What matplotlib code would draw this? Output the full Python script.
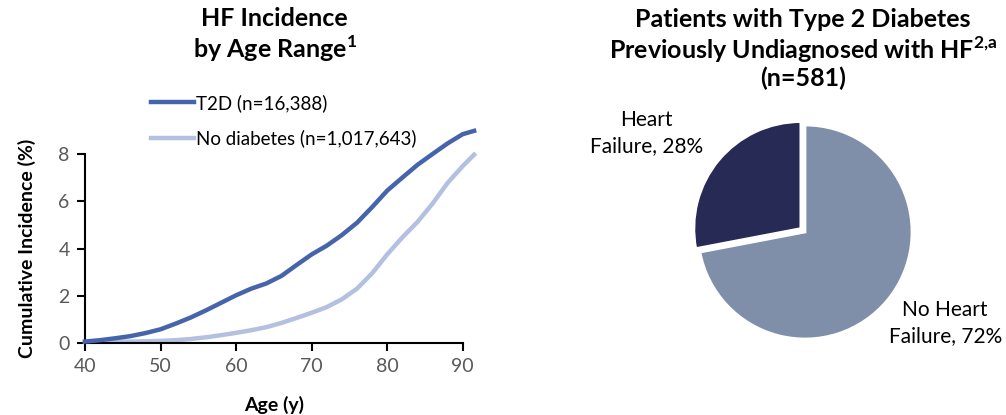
import matplotlib.pyplot as plt

plt.rcParams['font.family'] = ['Lato', 'DejaVu Sans']
plt.rcParams['mathtext.fontset'] = 'custom'
plt.rcParams['mathtext.rm'] = 'Lato'
plt.rcParams['mathtext.bf'] = 'Lato:bold'

# cumulative HF incidence (%) by age
age = [40, 42, 44, 46, 48, 50, 52, 54, 56, 58, 60, 62, 64, 66, 68, 70,
       72, 74, 76, 78, 80, 82, 84, 86, 88, 90, 91.5]
t2d = [0.06, 0.12, 0.2, 0.29, 0.42, 0.58, 0.82, 1.08, 1.38, 1.7, 2.02, 2.3, 2.52, 2.84, 3.3, 3.75,
       4.12, 4.57, 5.09, 5.75, 6.45, 7.0, 7.54, 8.0, 8.45, 8.84, 8.98]
no_diab = [0.05, 0.05, 0.05, 0.06, 0.07, 0.09, 0.12, 0.17, 0.24, 0.33, 0.43, 0.54, 0.67, 0.85, 1.06, 1.28,
           1.52, 1.85, 2.3, 2.95, 3.75, 4.47, 5.12, 5.9, 6.78, 7.49, 7.97]

pie_labels = ['Heart\nFailure, 28%', 'No Heart\nFailure, 72%']
pie_vals = [28, 72]

fig = plt.figure(figsize=(10.06, 4.15), dpi=100)

ax = fig.add_axes([0.0845, 0.1735, 0.3755, 0.4554])
ax.plot(age, t2d, color='#4664AA', lw=3.2, label='T2D (n=16,388)', clip_on=False, zorder=3,
        solid_joinstyle='round')
ax.plot(age, no_diab, color='#B4C0E0', lw=3.2, label='No diabetes (n=1,017,643)', clip_on=False, zorder=2,
        solid_joinstyle='round')
ax.set_xlim(40, 90)
ax.set_ylim(0, 8)
ax.set_xticks([40, 50, 60, 70, 80, 90])
ax.set_yticks([0, 2, 4, 6, 8])
for s in ['top', 'right']:
    ax.spines[s].set_visible(False)
for s in ['left', 'bottom']:
    ax.spines[s].set_linewidth(1.5)
ax.tick_params(labelsize=14, labelcolor='#595959', width=1.5, length=6, pad=5)
ax.set_xlabel('Age (y)', fontsize=14, fontweight='bold', labelpad=15)
ax.set_ylabel('Cumulative Incidence (%)', fontsize=14, fontweight='bold', labelpad=16)
ax.legend(loc='lower left', bbox_to_anchor=(0.15, 0.985), frameon=False, fontsize=13.5,
          handlelength=2.3, handletextpad=0.1, labelspacing=0.95, borderpad=0)
fig.text(0.273, 0.982, 'HF Incidence\nby Age Range$^{\\mathbf{1}}$', ha='center', va='top',
         fontsize=18, fontweight='bold', linespacing=1.12)

pax = fig.add_axes([(805 - 107) / 1006, (415 - 232 - 107) / 415, 214 / 1006, 214 / 415])
pax.pie(pie_vals, colors=['#262A55', '#7F8FAA'], startangle=90, counterclock=True,
        explode=[0.05, 0], wedgeprops=dict(edgecolor='white', linewidth=2))
pax.set_xlim(-1, 1)
pax.set_ylim(-1, 1)
pax.set_aspect('equal')
pax.text(-1.48, 0.925, pie_labels[0], ha='center', va='center', fontsize=15, linespacing=1.4)
pax.text(1.31, -0.85, pie_labels[1], ha='center', va='center', fontsize=15, linespacing=1.4)
fig.text(0.798, 0.98, 'Patients with Type 2 Diabetes\nPreviously Undiagnosed with HF$^{\\mathbf{2{,}a}}$\n(n=581)',
         ha='center', va='top', fontsize=18, fontweight='bold', linespacing=1.12)

fig.savefig('out.png', dpi=100)
